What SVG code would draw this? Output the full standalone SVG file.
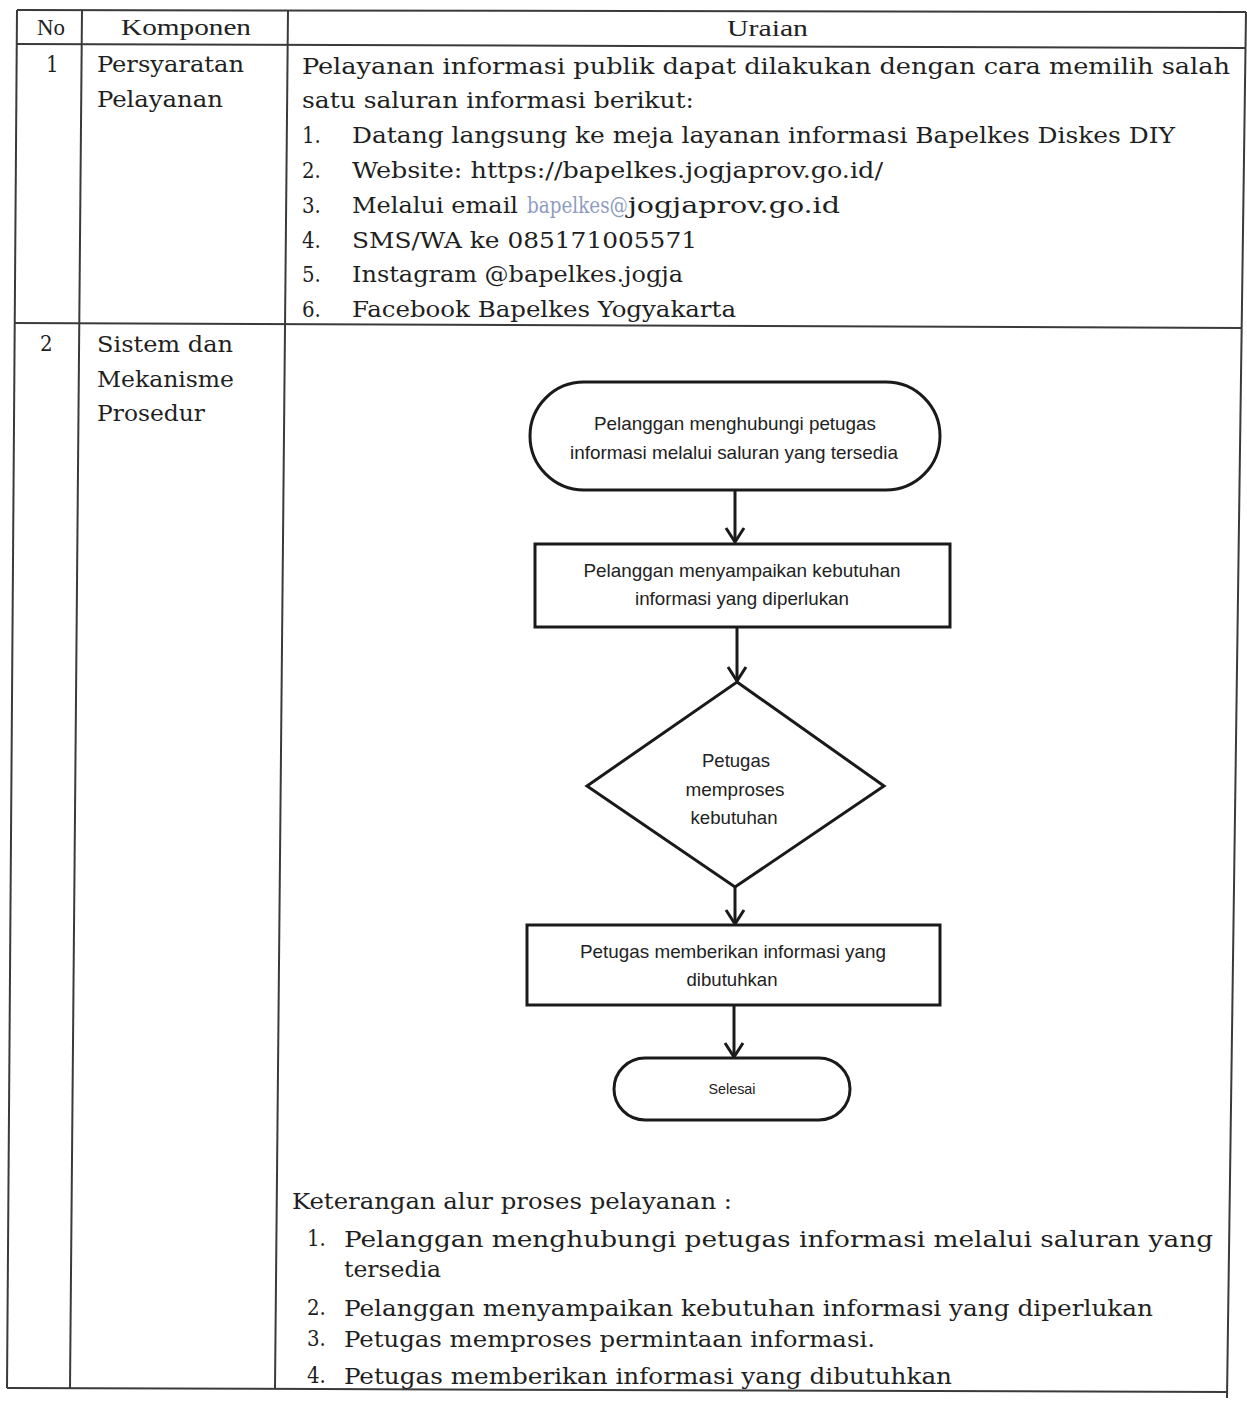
<svg xmlns="http://www.w3.org/2000/svg" width="1247" height="1401" viewBox="0 0 1247 1401">
<style>
.bg{fill:#ffffff}
.tl{stroke:#3a3a3a;stroke-width:2;fill:none}
.s{font-family:"DejaVu Serif Condensed","DejaVu Serif","Liberation Serif",serif;font-size:22px;fill:#1f1f1f}
.h{font-family:"Liberation Serif","DejaVu Serif",serif;font-size:24px;fill:#222}
.f{font-family:"Liberation Sans Narrow","Liberation Sans",Arial,sans-serif;font-size:19px;fill:#222;text-anchor:middle}
.n{fill:#ffffff;stroke:#1a1a1a;stroke-width:3}
.c{stroke:#1a1a1a;stroke-width:3;fill:none}
.lnk{fill:#8e9cc0}
</style>
<defs>
<marker id="ah" markerWidth="18" markerHeight="22" refX="16" refY="11" orient="auto" markerUnits="userSpaceOnUse" viewBox="0 0 18 22">
<path d="M2,2 L16,11 L2,20" fill="none" stroke="#1a1a1a" stroke-width="3"/>
</marker>
</defs>
<rect class="bg" x="0" y="0" width="1247" height="1401"/>

<g id="table">
<line class="tl" x1="17" y1="10" x2="1246" y2="12"/>
<line class="tl" x1="17" y1="44" x2="1245" y2="48"/>
<line class="tl" x1="14" y1="323" x2="1242" y2="328"/>
<line class="tl" x1="7" y1="1388" x2="1227" y2="1392"/>
<line class="tl" x1="17" y1="10" x2="7" y2="1388"/>
<line class="tl" x1="82" y1="10" x2="70" y2="1388"/>
<line class="tl" x1="288" y1="10" x2="275" y2="1388"/>
<line class="tl" x1="1246" y1="12" x2="1227" y2="1398"/>
</g>

<g id="header">
<text class="h" x="37" y="35" textLength="28" lengthAdjust="spacingAndGlyphs">No</text>
<text class="h" x="121" y="35" textLength="130" lengthAdjust="spacingAndGlyphs">Komponen</text>
<text class="h" x="727" y="36" textLength="81" lengthAdjust="spacingAndGlyphs">Uraian</text>
</g>

<g id="row1">
<text class="s" x="46" y="72">1</text>
<text class="s" x="97" y="72" textLength="147" lengthAdjust="spacingAndGlyphs">Persyaratan</text>
<text class="s" x="97" y="107" textLength="126" lengthAdjust="spacingAndGlyphs">Pelayanan</text>
<text class="s" x="302" y="74" textLength="928" lengthAdjust="spacingAndGlyphs">Pelayanan informasi publik dapat dilakukan dengan cara memilih salah</text>
<text class="s" x="302" y="108" textLength="392" lengthAdjust="spacingAndGlyphs">satu saluran informasi berikut:</text>
<text class="s" x="302" y="143">1.</text>
<text class="s" x="352" y="143" textLength="823" lengthAdjust="spacingAndGlyphs">Datang langsung ke meja layanan informasi Bapelkes Diskes DIY</text>
<text class="s" x="302" y="178">2.</text>
<text class="s" x="352" y="178" textLength="531" lengthAdjust="spacingAndGlyphs">Website: https://bapelkes.jogjaprov.go.id/</text>
<text class="s" x="302" y="213">3.</text>
<text class="s" x="352" y="213" textLength="166" lengthAdjust="spacingAndGlyphs">Melalui email</text>
<text class="s lnk" x="527" y="213" textLength="101" lengthAdjust="spacingAndGlyphs">bapelkes@</text>
<text class="s" x="628" y="213" textLength="212" lengthAdjust="spacingAndGlyphs">jogjaprov.go.id</text>
<text class="s" x="302" y="248">4.</text>
<text class="s" x="352" y="248" textLength="345" lengthAdjust="spacingAndGlyphs">SMS/WA ke 085171005571</text>
<text class="s" x="302" y="282">5.</text>
<text class="s" x="352" y="282" textLength="331" lengthAdjust="spacingAndGlyphs">Instagram @bapelkes.jogja</text>
<text class="s" x="302" y="317">6.</text>
<text class="s" x="352" y="317" textLength="384" lengthAdjust="spacingAndGlyphs">Facebook Bapelkes Yogyakarta</text>
</g>

<g id="row2">
<text class="s" x="40" y="351">2</text>
<text class="s" x="97" y="352" textLength="136" lengthAdjust="spacingAndGlyphs">Sistem dan</text>
<text class="s" x="97" y="387" textLength="137" lengthAdjust="spacingAndGlyphs">Mekanisme</text>
<text class="s" x="97" y="421" textLength="108" lengthAdjust="spacingAndGlyphs">Prosedur</text>
</g>

<g id="connectors">
<line class="c" x1="735" y1="490" x2="735" y2="542" marker-end="url(#ah)"/>
<line class="c" x1="737" y1="627" x2="737" y2="681" marker-end="url(#ah)"/>
<line class="c" x1="735" y1="887" x2="735" y2="924" marker-end="url(#ah)"/>
<line class="c" x1="734" y1="1005" x2="734" y2="1057" marker-end="url(#ah)"/>
</g>

<g id="node-start">
<rect class="n" x="530" y="382" width="410" height="108" rx="54" ry="54"/>
<text class="f" x="735" y="430" textLength="282" lengthAdjust="spacingAndGlyphs">Pelanggan menghubungi petugas</text>
<text class="f" x="734" y="459" textLength="328" lengthAdjust="spacingAndGlyphs">informasi melalui saluran yang tersedia</text>
</g>

<g id="node-request">
<rect class="n" x="535" y="544" width="415" height="83"/>
<text class="f" x="742" y="577" textLength="317" lengthAdjust="spacingAndGlyphs">Pelanggan menyampaikan kebutuhan</text>
<text class="f" x="742" y="605" textLength="214" lengthAdjust="spacingAndGlyphs">informasi yang diperlukan</text>
</g>

<g id="node-process">
<polygon class="n" points="737,682 884,786 735,887 587,786"/>
<text class="f" x="736" y="767" textLength="68" lengthAdjust="spacingAndGlyphs">Petugas</text>
<text class="f" x="735" y="796" textLength="99" lengthAdjust="spacingAndGlyphs">memproses</text>
<text class="f" x="734" y="824" textLength="87" lengthAdjust="spacingAndGlyphs">kebutuhan</text>
</g>

<g id="node-give">
<rect class="n" x="527" y="925" width="413" height="80"/>
<text class="f" x="733" y="958" textLength="306" lengthAdjust="spacingAndGlyphs">Petugas memberikan informasi yang</text>
<text class="f" x="732" y="986" textLength="91" lengthAdjust="spacingAndGlyphs">dibutuhkan</text>
</g>

<g id="node-end">
<rect class="n" x="614" y="1058" width="236" height="62" rx="31" ry="31"/>
<text class="f" x="732" y="1094" style="font-size:15px" textLength="47" lengthAdjust="spacingAndGlyphs">Selesai</text>
</g>

<g id="notes">
<text class="s" x="292" y="1209" textLength="440" lengthAdjust="spacingAndGlyphs">Keterangan alur proses pelayanan :</text>
<text class="s" x="307" y="1246">1.</text>
<text class="s" x="344" y="1247" textLength="869" lengthAdjust="spacingAndGlyphs">Pelanggan menghubungi petugas informasi melalui saluran yang</text>
<text class="s" x="344" y="1277" textLength="97" lengthAdjust="spacingAndGlyphs">tersedia</text>
<text class="s" x="307" y="1315">2.</text>
<text class="s" x="344" y="1316" textLength="809" lengthAdjust="spacingAndGlyphs">Pelanggan menyampaikan kebutuhan informasi yang diperlukan</text>
<text class="s" x="307" y="1346">3.</text>
<text class="s" x="344" y="1347" textLength="531" lengthAdjust="spacingAndGlyphs">Petugas memproses permintaan informasi.</text>
<text class="s" x="307" y="1383">4.</text>
<text class="s" x="344" y="1384" textLength="608" lengthAdjust="spacingAndGlyphs">Petugas memberikan informasi yang dibutuhkan</text>
</g>
</svg>
